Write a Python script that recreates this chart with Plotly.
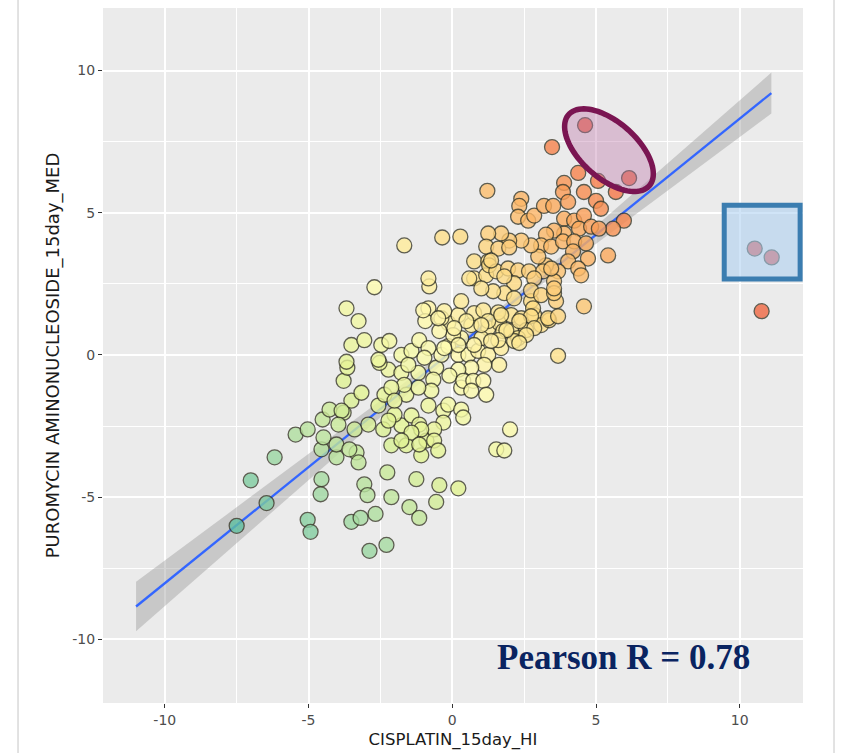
import numpy as np
import plotly.graph_objects as go

# ---- data (CISPLATIN_15day_HI vs PUROMYCIN AMINONUCLEOSIDE_15day_MED)
x_vals = [
    -7.50, -6.46, -7.01, -6.18, -5.45, -5.03, -4.51, -4.27, -4.55, -4.55, -4.58, -5.03, -4.93, -4.03,
    -3.78, -3.78, -3.65, -3.51, -3.16, -3.40, -3.33, -3.26, -2.92, -3.06, -2.95, -3.51, -3.19, -2.67,
    -2.26, -2.12, -2.88, -2.29, -1.49, -1.15, -1.25, -2.57, -2.36, -2.40, -2.12, -1.77, -2.01, -1.60,
    -1.42, -1.15, -1.08, -0.90, -2.22, -1.77, -1.18, -1.60, -0.83, -0.45, 0.21, -0.56, 2.01, 1.53,
    1.81, -4.48, -4.03, -3.85, -3.51, -3.06, -2.47, -2.19, -2.53, -1.77, -1.42, -1.15, -0.83, -0.97,
    -1.53, -0.56, -0.38, -0.14, 0.21, 0.56, 0.90, 1.25, 1.63, 1.11, 0.66, 0.21, -0.10, -0.66,
    -0.73, -1.18, -1.67, -2.12, -2.01, -2.22, -0.31, -0.14, -0.31, -0.63, -1.08, -1.42, -1.77, -1.15,
    -0.63, -0.49, 0.31, 0.38, 0.73, 1.08, 0.66, 1.18, 0.31, 0.38, -0.14, 0.21, -0.38, -0.83,
    -0.80, -0.83, 0.66, 0.76, 1.08, 1.25, 1.63, 1.77, 2.05, 1.01, 0.76, 0.31, 0.03, 2.05,
    2.40, 2.85, 3.09, 2.57, 2.29, 1.70, 2.15, 3.68, 4.58, 3.37, 3.61, 2.74, 0.76, 1.25,
    0.76, 1.18, -1.67, -2.71, -3.68, -3.26, -3.68, -2.57, -0.94, -1.01, 1.22, -0.35, 0.28, 4.38,
    3.89, 3.85, 4.03, 4.58, 5.07, 6.15, 5.69, 5.00, 5.17, 5.97, 5.59, 5.42, 2.40, 2.33,
    2.29, 2.64, 2.85, 3.19, 3.51, 3.89, 4.24, 4.58, 4.41, 4.83, 5.10, 3.89, 3.54, 3.26,
    3.09, 3.44, 3.85, 4.24, 4.65, 4.20, 4.72, 4.03, 4.38, 4.48, 3.68, 3.26, 2.99, 2.74,
    2.40, 1.98, 1.70, 1.25, 1.18, 1.60, 1.98, 1.28, 0.59, 1.53, 1.94, 2.29, 2.67, 3.16,
    3.54, 2.85, 2.15, 1.81, 1.42, 1.01, 2.74, 3.09, 3.54, 2.15, 0.31, -0.28, 1.60, 2.81,
    3.33, 3.68, 2.74, 0.49, 0.07, 1.25, 1.88, 2.33, 2.85, 1.60, 0.21, -0.28, -0.45, -0.49,
    3.47, 4.62, 10.52, 11.11, 10.76, 1.35, 3.44, 1.81, 3.54, 1.70, 1.01, 2.57, 1.35, 2.33,
    -3.96, -3.58,
]
y_vals = [
    -6.01, -5.21, -4.41, -3.60, -2.80, -2.62, -2.27, -1.92, -3.32, -4.37, -4.90, -5.80, -6.22, -3.60,
    -2.03, -0.91, -0.45, -1.61, -1.33, -2.62, -3.43, -3.78, -2.45, -4.55, -4.93, -5.87, -5.73, -5.59,
    -4.13, -5.00, -6.89, -6.68, -5.35, -5.73, -4.37, -1.78, -1.40, -2.62, -3.18, -2.48, -2.10, -3.18,
    -2.13, -2.45, -3.53, -3.01, -0.52, -0.63, -0.63, -1.40, -1.78, -4.58, -4.69, -5.17, -2.62, -3.32,
    -3.36, -2.90, -3.15, -1.96, 0.35, 0.52, 0.35, 0.49, -0.28, 0.00, 0.14, 0.52, 0.24, -0.10,
    -0.35, -0.45, 0.00, 0.31, 0.00, 0.00, 0.14, 0.00, -0.35, -0.35, -0.45, -0.52, -0.73, -0.87,
    -1.26, -1.15, -1.05, -1.15, -1.61, -2.31, -1.96, -1.75, -2.38, -2.62, -2.62, -2.73, -3.01, -3.15,
    -3.01, -3.36, -1.15, -0.91, -0.91, -0.91, -1.26, -1.40, -1.92, -2.20, 1.12, 1.40, 1.29, 1.64,
    2.41, 2.69, 1.05, 1.47, 1.57, 0.94, 1.12, 0.84, 0.84, 0.59, 0.35, 0.59, 0.70, 1.40,
    1.29, 1.40, 1.05, 0.87, 0.59, 0.24, 0.49, -0.03, 1.71, 1.22, 1.89, 1.89, 3.29, 3.29,
    2.69, 2.80, 3.85, 2.38, 1.64, 1.19, -0.24, -0.17, 1.19, 1.57, 5.77, 4.13, 4.16, 6.40,
    6.05, 5.73, 5.38, 5.73, 6.12, 6.22, 5.73, 5.42, 5.14, 4.72, 4.44, 3.50, 5.49, 5.24,
    4.86, 4.72, 4.90, 5.24, 5.24, 4.79, 4.72, 4.90, 4.44, 4.51, 4.44, 4.27, 4.37, 4.23,
    3.85, 3.81, 3.99, 3.99, 3.92, 3.64, 3.39, 3.29, 3.04, 2.80, 2.94, 3.15, 3.46, 3.85,
    4.02, 4.02, 4.27, 4.27, 3.81, 3.74, 3.78, 3.15, 2.69, 2.94, 3.04, 2.97, 2.94, 2.94,
    2.59, 2.69, 2.52, 2.17, 2.24, 2.34, 2.27, 2.10, 2.17, 1.99, 1.89, 1.54, 1.50, 1.64,
    1.29, 1.36, 1.36, 1.19, 0.94, 1.19, 0.87, 1.19, 0.94, 0.52, 0.35, 0.24, 0.84, 1.29,
    7.31, 8.08, 3.74, 3.43, 1.54, 3.32, 3.04, 2.76, 2.34, 1.40, 1.05, 0.70, 0.49, 0.42,
    -2.45, -3.32,
]

tick_vals = [-10, -5, 0, 5, 10]
tick_text = ["-10", "-5", "0", "5", "10"]

# regression fit
fit_range = [-11.0, 11.1]
fit_slope = 0.817
fit_intercept = 0.14
band_a, band_b, band_xc = 0.02, 0.005, 1.13

x = np.array(x_vals)
y = np.array(y_vals)
col = x + y

fx = np.linspace(fit_range[0], fit_range[1], 120)
fy = fit_intercept + fit_slope * fx
half = np.sqrt(band_a + band_b * (fx - band_xc) ** 2)

fig = go.Figure()
fig.add_trace(go.Scatter(
    x=np.concatenate([fx, fx[::-1]]), y=np.concatenate([fy + half, (fy - half)[::-1]]),
    fill="toself", fillcolor="rgba(153,153,153,0.42)", line=dict(width=0),
    mode="lines", hoverinfo="skip", showlegend=False))
fig.add_trace(go.Scatter(x=fx, y=fy, mode="lines", line=dict(color="#3366FF", width=2.3),
                         showlegend=False))

cscale = [
    [0.00, "#5fbfa0"], [0.16, "#a6dba2"], [0.32, "#e3f493"], [0.48, "#fffcb0"],
    [0.64, "#fedd85"], [0.80, "#fca95c"], [0.91, "#f46d43"], [1.00, "#e04a45"],
]
fig.add_trace(go.Scatter(
    x=x, y=y, mode="markers", showlegend=False,
    marker=dict(size=15, color=col, colorscale=cscale, cmin=-13.5, cmax=14.5,
                opacity=0.8, line=dict(color="#3a3a2a", width=1.3))))

# annotation shapes
t = np.linspace(0, 2 * np.pi, 90)
cx, cy, ea, eb, ang = 5.45, 7.2, 1.88, 0.98, np.deg2rad(-42)
ex = cx + ea * np.cos(t) * np.cos(ang) - eb * np.sin(t) * np.sin(ang)
ey = cy + ea * np.cos(t) * np.sin(ang) + eb * np.sin(t) * np.cos(ang)
path = "M " + " L ".join(f"{a:.3f},{b:.3f}" for a, b in zip(ex, ey)) + " Z"

shapes = [
    dict(type="path", path=path, xref="x", yref="y", layer="above",
         line=dict(color="#7a1552", width=5.5), fillcolor="rgba(190,120,170,0.4)"),
    dict(type="rect", x0=9.46, x1=12.1, y0=2.67, y1=5.26, xref="x", yref="y", layer="above",
         line=dict(color="#3b7db0", width=5), fillcolor="rgba(170,205,240,0.55)"),
    dict(type="line", xref="paper", yref="paper", x0=-0.1214, x1=-0.1214, y0=-0.1, y1=1.1,
         line=dict(color="#d9d9d9", width=1.5)),
    dict(type="line", xref="paper", yref="paper", x0=1.0443, x1=1.0443, y0=-0.1, y1=1.1,
         line=dict(color="#d9d9d9", width=1.5)),
]

axis_common = dict(
    tickvals=tick_vals, ticktext=tick_text, ticks="outside", ticklen=4, tickwidth=1,
    tickcolor="#333333", tickfont=dict(family="DejaVu Sans", size=14, color="#4d4d4d"),
    showgrid=True, gridcolor="white", gridwidth=1.6, zeroline=False, showline=False,
    minor=dict(dtick=2.5, tick0=0, showgrid=True, gridcolor="white", gridwidth=0.7, ticks=""),
)

fig.update_layout(
    width=846, height=753,
    margin=dict(l=103, r=43, t=8, b=46),
    paper_bgcolor="white", plot_bgcolor="#EBEBEB",
    xaxis=dict(range=[-12.15, 12.2],
               title=dict(text="CISPLATIN_15day_HI", standoff=6,
                          font=dict(family="DejaVu Sans", size=16.5, color="#1a1a1a")),
               **axis_common),
    yaxis=dict(range=[-12.24, 12.2],
               title=dict(text="PUROMYCIN AMINONUCLEOSIDE_15day_MED", standoff=8,
                          font=dict(family="DejaVu Sans", size=18, color="#1a1a1a")),
               **axis_common),
    shapes=shapes,
    annotations=[dict(x=5.94, y=-10.65, xref="x", yref="y", showarrow=False,
                      text="<b>Pearson R = 0.78</b>", xanchor="center", yanchor="middle",
                      font=dict(family="Liberation Serif", size=35, color="#0a2461"))],
)

fig.write_html("out.html")
